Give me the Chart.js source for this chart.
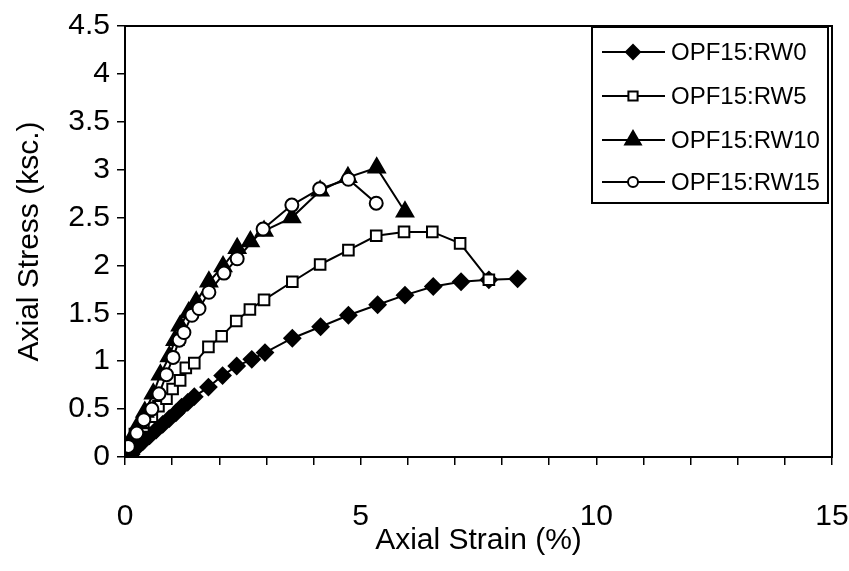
<!DOCTYPE html>
<html><head><meta charset="utf-8">
<script src="https://cdn.jsdelivr.net/npm/chart.js@4/dist/chart.umd.min.js"></script>
<style>html,body{margin:0;padding:0;background:#fff}</style>
</head><body>
<canvas id="c" width="849" height="571"></canvas>
<script>
// ---- data ----
const seriesNames = ['OPF15:RW0', 'OPF15:RW5', 'OPF15:RW10', 'OPF15:RW15'];

const rw0Strain = [0.13, 0.25, 0.38, 0.52, 0.66, 0.80, 0.94, 1.08, 1.20, 1.33, 1.47, 1.77, 2.07, 2.37, 2.69, 2.97, 3.55, 4.15, 4.74, 5.36, 5.94, 6.54, 7.13, 7.72, 8.33];
const rw0Stress = [0.03, 0.10, 0.16, 0.22, 0.28, 0.34, 0.40, 0.46, 0.52, 0.57, 0.63, 0.73, 0.85, 0.95, 1.02, 1.09, 1.24, 1.36, 1.48, 1.59, 1.69, 1.78, 1.83, 1.85, 1.86];

const rw5Strain = [0.07, 0.21, 0.39, 0.57, 0.71, 0.88, 1.01, 1.17, 1.29, 1.47, 1.77, 2.05, 2.36, 2.65, 2.95, 3.55, 4.14, 4.74, 5.33, 5.92, 6.52, 7.11, 7.72];
const rw5Stress = [0.13, 0.24, 0.32, 0.42, 0.53, 0.61, 0.71, 0.80, 0.93, 0.98, 1.15, 1.26, 1.42, 1.54, 1.64, 1.83, 2.01, 2.16, 2.31, 2.35, 2.35, 2.23, 1.85];

const rw10Strain = [0.10, 0.18, 0.30, 0.42, 0.60, 0.75, 0.94, 1.06, 1.17, 1.35, 1.51, 1.78, 2.08, 2.38, 2.66, 2.95, 3.54, 4.14, 4.73, 5.34, 5.94];
const rw10Stress = [0.06, 0.23, 0.35, 0.47, 0.66, 0.86, 1.05, 1.22, 1.37, 1.51, 1.62, 1.83, 1.99, 2.18, 2.25, 2.36, 2.50, 2.78, 2.92, 3.02, 2.56];

const rw15Strain = [0.07, 0.25, 0.40, 0.57, 0.72, 0.88, 1.02, 1.15, 1.25, 1.42, 1.57, 1.78, 2.10, 2.38, 2.93, 3.54, 4.13, 4.74, 5.33];
const rw15Stress = [0.11, 0.25, 0.39, 0.50, 0.66, 0.86, 1.04, 1.22, 1.30, 1.48, 1.55, 1.72, 1.92, 2.07, 2.38, 2.63, 2.80, 2.90, 2.65];

const xTickStep = 1, xLabelEvery = 5, xMin = 0, xMax = 15;
const yTickStep = 0.5, yMin = 0, yMax = 4.5;
const xTitle = 'Axial Strain (%)';
const yTitle = 'Axial Stress (ksc.)';

// ---- build ----
const FONT = "'Liberation Sans', Arial, sans-serif";
function pts(xs, ys) { return xs.map((x, i) => ({ x: x, y: ys[i] })); }

const styles = [
  { pointStyle: 'rectRot', radius: 8, bg: '#000', lg: 7 },
  { pointStyle: 'rect', radius: 7.5, bg: '#fff', lg: 6.5 },
  { pointStyle: 'triangle', radius: 9.5, bg: '#000', lg: 9 },
  { pointStyle: 'circle', radius: 6.5, bg: '#fff', lg: 5 }
];
const allX = [rw0Strain, rw5Strain, rw10Strain, rw15Strain];
const allY = [rw0Stress, rw5Stress, rw10Stress, rw15Stress];

const datasets = seriesNames.map((name, i) => ({
  label: name,
  data: pts(allX[i], allY[i]),
  showLine: true,
  borderColor: '#000',
  borderWidth: 2,
  pointStyle: styles[i].pointStyle,
  pointRadius: styles[i].radius,
  pointHoverRadius: styles[i].radius,
  pointBackgroundColor: styles[i].bg,
  pointBorderColor: '#000',
  pointBorderWidth: 2,
  order: 4 - i
}));

function drawMarker(ctx, style, r, fill, x, y) {
  ctx.save();
  ctx.beginPath();
  if (style === 'rectRot') {
    ctx.moveTo(x - r, y); ctx.lineTo(x, y - r); ctx.lineTo(x + r, y); ctx.lineTo(x, y + r); ctx.closePath();
  } else if (style === 'rect') {
    const s = r * Math.SQRT1_2; ctx.rect(x - s, y - s, 2 * s, 2 * s);
  } else if (style === 'triangle') {
    ctx.moveTo(x, y - r);
    ctx.lineTo(x + r * Math.sin(2 * Math.PI / 3), y - r * Math.cos(2 * Math.PI / 3));
    ctx.lineTo(x + r * Math.sin(4 * Math.PI / 3), y - r * Math.cos(4 * Math.PI / 3));
    ctx.closePath();
  } else {
    ctx.arc(x, y, r, 0, Math.PI * 2);
  }
  ctx.fillStyle = fill; ctx.fill();
  ctx.lineWidth = 2; ctx.strokeStyle = '#000'; ctx.stroke();
  ctx.restore();
}

const boxAndLegend = {
  id: 'boxAndLegend',
  afterDatasetsDraw(chart) {
    const ctx = chart.ctx, a = chart.chartArea;
    ctx.save();
    ctx.strokeStyle = '#000'; ctx.lineWidth = 2;
    ctx.strokeRect(a.left, a.top, a.right - a.left, a.bottom - a.top);
    // legend box
    const bx = 592, by = 27, bw = 236, bh = 176;
    ctx.fillStyle = '#fff'; ctx.fillRect(bx, by, bw, bh);
    ctx.strokeRect(bx, by, bw, bh);
    const rows = [52, 96, 140, 182];
    ctx.font = '24px ' + FONT; ctx.textBaseline = 'middle'; ctx.textAlign = 'left';
    chart.data.datasets.forEach((ds, i) => {
      const y = rows[i];
      ctx.beginPath(); ctx.moveTo(602, y); ctx.lineTo(665, y);
      ctx.lineWidth = 2; ctx.strokeStyle = '#000'; ctx.stroke();
      drawMarker(ctx, styles[i].pointStyle, styles[i].lg, styles[i].bg, 633, y);
      ctx.fillStyle = '#000'; ctx.fillText(ds.label, 671, y + 1);
    });
    ctx.restore();
  }
};

new Chart(document.getElementById('c'), {
  type: 'scatter',
  data: { datasets: datasets },
  options: {
    responsive: false,
    animation: false,
    layout: { padding: { top: 26, right: 17, left: 0, bottom: 0 } },
    plugins: { legend: { display: false }, tooltip: { enabled: false } },
    scales: {
      x: {
        type: 'linear', min: xMin, max: xMax,
        afterFit(s) { s.height = 114; s.paddingLeft = 0; s.paddingRight = 0; },
        border: { display: true, color: '#000', width: 2 },
        grid: { drawOnChartArea: false, drawTicks: true, tickLength: 8, color: '#000', lineWidth: 1.5 },
        ticks: {
          stepSize: xTickStep, autoSkip: false, maxRotation: 0, padding: 34, color: '#000',
          font: { family: FONT, size: 30 },
          callback: v => (Math.abs(v % xLabelEvery) < 1e-9 ? String(v) : '')
        },
        title: { display: true, text: xTitle, color: '#000', font: { family: FONT, size: 30 }, padding: { top: 0, bottom: 12 } }
      },
      y: {
        type: 'linear', min: yMin, max: yMax,
        afterFit(s) { s.width = 125; s.paddingTop = 0; s.paddingBottom = 0; },
        border: { display: true, color: '#000', width: 2 },
        grid: { drawOnChartArea: false, drawTicks: true, tickLength: 8, color: '#000', lineWidth: 1.5 },
        ticks: {
          stepSize: yTickStep, autoSkip: false, padding: 7, color: '#000',
          font: { family: FONT, size: 30 },
          callback: v => String(v)
        },
        title: { display: true, text: yTitle, color: '#000', font: { family: FONT, size: 30 }, padding: { top: 12, bottom: 0 } }
      }
    }
  },
  plugins: [boxAndLegend]
});
</script>
</body></html>
